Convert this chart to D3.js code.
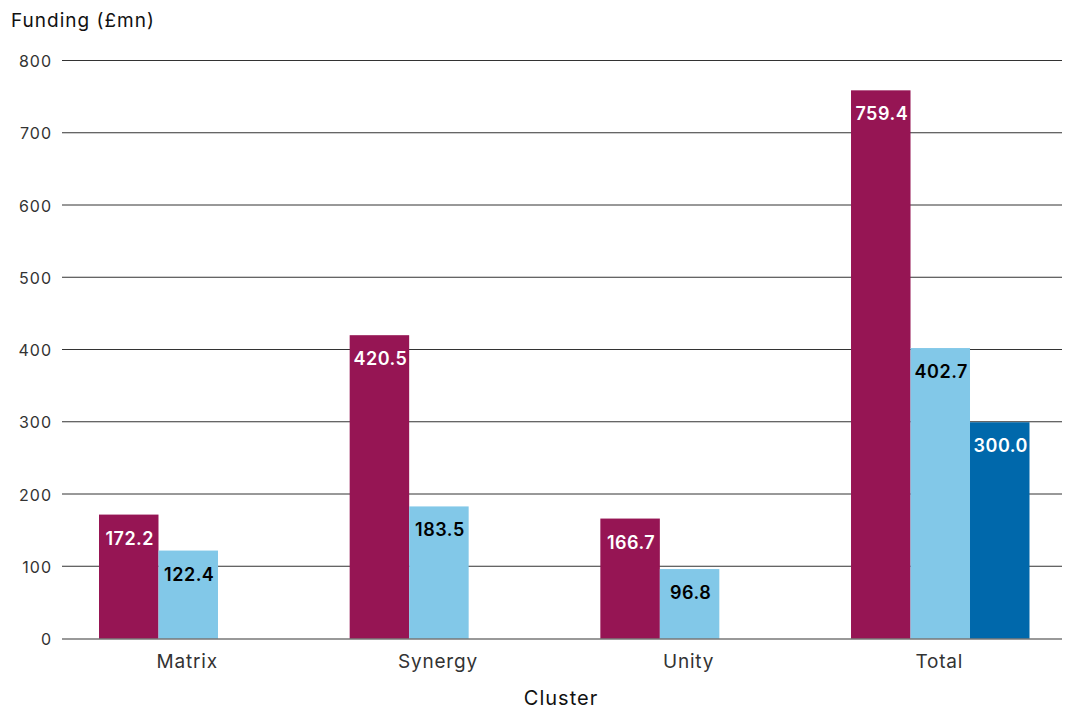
<!DOCTYPE html>
<html>
<head>
<meta charset="utf-8">
<script src="https://cdn.jsdelivr.net/npm/d3@7"></script>
<style>
  body { margin: 0; background: #fff; }
  text { font-family: Inter, "Noto Sans", sans-serif; }
</style>
</head>
<body>
<svg id="chart"></svg>
<script>
// data
var clusters = ["Matrix", "Synergy", "Unity", "Total"];
var seriesA = [172.2, 420.5, 166.7, 759.4];   // maroon
var seriesB = [122.4, 183.5, 96.8, 402.7];    // light blue
var seriesC = [null, null, null, 300.0];      // dark blue
var yTicks = [0, 100, 200, 300, 400, 500, 600, 700, 800];

var colors = ["#961554", "#82c8e8", "#0068ab"];
var labelColors = ["#fff", "#000", "#fff"];

var width = 1070, height = 709;
var margin = {left: 62, right: 8, top: 61, bottom: 70};

var svg = d3.select("#chart").attr("width", width).attr("height", height);

var x = d3.scaleBand()
  .domain(clusters)
  .range([margin.left, 1066.5])
  .paddingInner(0.288)
  .paddingOuter(0.1476);

var slot = d3.scaleBand().domain([0, 1, 2]).range([0, x.bandwidth()]);

var y = d3.scaleLinear().domain([0, 800]).range([height - margin.bottom, margin.top]);

// gridlines
svg.append("g")
  .selectAll("line")
  .data(yTicks.filter(function(d) { return d > 0; }))
  .enter()
  .append("line")
  .attr("x1", margin.left)
  .attr("x2", width - margin.right)
  .attr("y1", function(d) { return y(d) - 0.5; })
  .attr("y2", function(d) { return y(d) - 0.5; })
  .attr("stroke", "#333")
  .attr("stroke-width", 1);

// y tick labels
svg.append("g")
  .selectAll("text")
  .data(yTicks)
  .enter()
  .append("text")
  .text(function(d) { return d; })
  .attr("x", 52)
  .attr("y", function(d) { return y(d) + 6; })
  .attr("text-anchor", "end")
  .attr("fill", "#333")
  .attr("font-size", "16px")
  .attr("letter-spacing", "1px");

// bars
var rows = [];
clusters.forEach(function(c, i) {
  [seriesA, seriesB, seriesC].forEach(function(s, j) {
    if (s[i] != null) rows.push({cluster: c, series: j, value: s[i]});
  });
});

svg.append("g")
  .selectAll("rect")
  .data(rows)
  .enter()
  .append("rect")
  .attr("x", function(d) { return x(d.cluster) + slot(d.series); })
  .attr("y", function(d) { return y(d.value); })
  .attr("width", slot.bandwidth())
  .attr("height", function(d) { return y(0) - y(d.value); })
  .attr("fill", function(d) { return colors[d.series]; });

svg.append("g")
  .selectAll("text")
  .data(rows)
  .enter()
  .append("text")
  .text(function(d) { return d.value.toFixed(1); })
  .attr("x", function(d) { return x(d.cluster) + slot(d.series) + slot.bandwidth() / 2 + 1; })
  .attr("y", function(d) { return y(d.value) + 30; })
  .attr("text-anchor", "middle")
  .attr("fill", function(d) { return labelColors[d.series]; })
  .attr("font-size", "18px")
  .attr("font-weight", 600)
  .attr("letter-spacing", "0.5px");

// baseline
svg.append("line")
  .attr("x1", margin.left)
  .attr("x2", width - margin.right)
  .attr("y1", y(0))
  .attr("y2", y(0))
  .attr("stroke", "#777")
  .attr("stroke-width", 1.5);

// x labels
svg.append("g")
  .selectAll("text")
  .data(clusters)
  .enter()
  .append("text")
  .text(function(d) { return d; })
  .attr("x", function(d) { return x(d) + x.bandwidth() / 2 - 1; })
  .attr("y", y(0) + 29)
  .attr("text-anchor", "middle")
  .attr("fill", "#333")
  .attr("font-size", "19px")
  .attr("letter-spacing", "0.8px");

svg.append("text")
  .text("Cluster")
  .attr("x", 561)
  .attr("y", 705)
  .attr("text-anchor", "middle")
  .attr("fill", "#111")
  .attr("font-size", "20px")
  .attr("letter-spacing", "1px");

svg.append("text")
  .text("Funding (£mn)")
  .attr("x", 11)
  .attr("y", 27)
  .attr("fill", "#111")
  .attr("font-size", "19px")
  .attr("letter-spacing", "1px");
</script>
</body>
</html>
